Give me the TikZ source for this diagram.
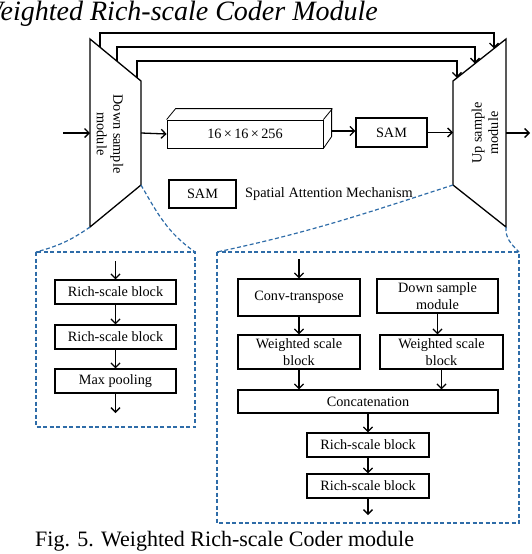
\documentclass[tikz,border=0pt]{standalone}
\usepackage{fontspec}
\setmainfont{Liberation Serif}
\usetikzlibrary{arrows.meta,calc}

\definecolor{zoomblue}{RGB}{46,108,168}

\tikzset{
  blk/.style={draw,line width=1.3pt,inner sep=1pt,align=center,
    font=\fontsize{14.25}{16.5}\selectfont},
  arr/.style={-{Straight Barb[length=4.5pt,width=9pt]},line width=1.3pt},
  zoomline/.style={zoomblue,line width=1.2pt,dash pattern=on 4pt off 2.5pt}
}

\begin{document}
\begin{tikzpicture}[x=1pt,y=-1pt]
  \useasboundingbox (0,0) rectangle (532,554);

  % title and caption
  \node[anchor=base east,inner sep=0pt,font=\itshape\fontsize{28}{28}\selectfont]
    (title) at (378,20) {Weighted Rich-scale Coder Module};
  \node[anchor=base west,inner sep=0pt,font=\fontsize{22}{22}\selectfont]
    (caption) at (35,546) {Fig. 5. Weighted Rich-scale Coder module};

  % down / up sample trapezoids
  \coordinate (dtl) at (90,39);
  \coordinate (dtr) at (141,81);
  \coordinate (dbr) at (141,185);
  \coordinate (dbl) at (90,227);
  \coordinate (utl) at (453,81);
  \coordinate (utr) at (506,39);
  \coordinate (ubr) at (506,227);
  \coordinate (ubl) at (453,185);
  \draw[line width=1.3pt] (dtl) -- (dtr) -- (dbr) -- (dbl) -- cycle;
  \draw[line width=1.3pt] (utl) -- (utr) -- (ubr) -- (ubl) -- cycle;

  \node[rotate=-90,align=center,font=\fontsize{14.25}{16.5}\selectfont]
    (dtext) at (110,134) {Down sample\\module};
  \node[rotate=90,align=center,font=\fontsize{14.25}{16.5}\selectfont]
    (utext) at (485,133) {Up sample\\module};

  % skip connections
  \coordinate (s1) at ($(dtl)!0.196!(dtr)$);
  \coordinate (s2) at ($(dtl)!0.529!(dtr)$);
  \coordinate (s3) at ($(dtl)!0.92!(dtr)$);
  \coordinate (e1) at ($(utl)!0.774!(utr)$);
  \coordinate (e2) at ($(utl)!0.415!(utr)$);
  \coordinate (e3) at ($(utl)!0.075!(utr)$);
  \coordinate (top1) at (0,33);
  \coordinate (top2) at (0,47);
  \coordinate (top3) at (0,61);
  \draw[arr] (s1) -- (s1 |- top1) -- (e1 |- top1) -- (e1);
  \draw[arr] (s2) -- (s2 |- top2) -- (e2 |- top2) -- (e2);
  \draw[arr] (s3) -- (s3 |- top3) -- (e3 |- top3) -- (e3);

  % middle row
  \coordinate (in) at (63,133);
  \coordinate (out) at (530,133);
  \node[draw,line width=0.8pt,minimum width=156pt,minimum height=28pt,
    font=\fontsize{14.25}{16.5}\selectfont] (cube) at (245,134) {16\,×\,16\,×\,256};
  \draw[line width=0.8pt] (cube.north west) -- ++(9,-11) -- ++(156,0)
    -- ++(0,28) -- (cube.south east);
  \draw[line width=0.8pt] (cube.north east) -- ++(9,-11);
  \coordinate (cuber) at ($(cube.east)+(9,-3)$);
  \node[blk,minimum width=71pt,minimum height=29pt] (sam) at (391.5,132.5) {SAM};

  \draw[arr] (in) -- (in -| dtl);
  \draw[arr] ($(dtr)!0.5!(dbr)$) -- (cube.west);
  \draw[arr] (cuber) -- (cuber -| sam.west);
  \draw[arr] (sam.east) -- (sam.east -| utl);
  \draw[arr] ($(utr)!0.5!(ubr)$) -- (out);

  % legend
  \node[blk,minimum width=67pt,minimum height=28pt] (legsam) at (202.5,194) {SAM};
  \node[anchor=west,inner sep=0pt,font=\fontsize{14.3}{16.5}\selectfont]
    (legtxt) at (245,194) {Spatial Attention Mechanism};

  % zoom of the down sample module
  \coordinate (lnw) at (36,252);
  \coordinate (lse) at (195,427);
  \draw[zoomline] (lnw) rectangle (lse);
  \draw[zoomline] (dbl) to[out=215,in=15] (lnw);
  \draw[zoomline] (dbr) to[out=-60,in=145] (lse |- lnw);

  \node[blk,minimum width=121pt,minimum height=24pt] (lrs1) at (115.5,292) {Rich-scale block};
  \node[blk,minimum width=121pt,minimum height=24pt] (lrs2) at (115.5,337) {Rich-scale block};
  \node[blk,minimum width=121pt,minimum height=24pt] (lmp) at (115.5,381) {Max pooling};
  \coordinate (lin) at (115.5,261);
  \coordinate (lout) at (115.5,413);
  \draw[arr] (lin) -- (lrs1.north);
  \draw[arr] (lrs1) -- (lrs2);
  \draw[arr] (lrs2) -- (lmp);
  \draw[arr] (lmp) -- (lout);

  % zoom of the up sample module
  \coordinate (rnw) at (217,252);
  \coordinate (rse) at (519,523);
  \draw[zoomline] (rnw) rectangle (rse);
  \draw[zoomline] (ubl) to[out=198,in=12] (rnw);
  \draw[zoomline] (ubr) to[out=-95,in=135] (rse |- rnw);

  \node[blk,minimum width=122pt,minimum height=37pt] (conv) at (299,297.5) {Conv-transpose};
  \node[blk,minimum width=121pt,minimum height=34pt] (dsm) at (437.5,296) {Down sample\\module};
  \node[blk,minimum width=122pt,minimum height=34pt] (wl) at (299,352) {Weighted scale\\block};
  \node[blk,minimum width=123pt,minimum height=34pt] (wr) at (441.5,352) {Weighted scale\\block};
  \node[blk,minimum width=260pt,minimum height=23pt] (cat) at (368,401.5) {Concatenation};
  \node[blk,minimum width=122pt,minimum height=24pt] (rrs1) at (368,445) {Rich-scale block};
  \node[blk,minimum width=122pt,minimum height=24pt] (rrs2) at (368,486) {Rich-scale block};
  \coordinate (rin) at (299,259);
  \coordinate (rout) at (368,515);

  \draw[arr] (rin) -- (conv.north);
  \draw[arr] (conv) -- (wl);
  \draw[arr] (dsm.south) -- (dsm.south |- wr.north);
  \draw[arr] (wl.south) -- (wl.south |- cat.north);
  \draw[arr] (wr.south) -- (wr.south |- cat.north);
  \draw[arr] (cat) -- (rrs1);
  \draw[arr] (rrs1) -- (rrs2);
  \draw[arr] (rrs2) -- (rout);

\end{tikzpicture}
\end{document}
